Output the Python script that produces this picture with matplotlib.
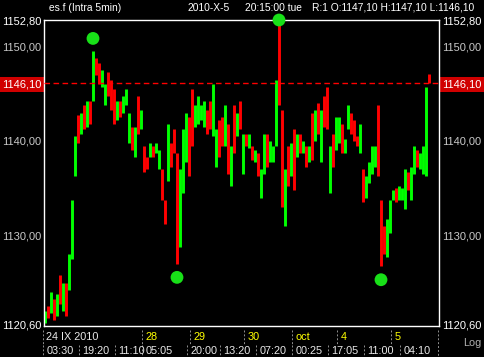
# es.f intraday 5min chart, dark trading-terminal style

import matplotlib
matplotlib.use('Agg')
import matplotlib.pyplot as plt
import matplotlib.transforms as mtransforms

# bar highs / lows (one entry per drawn bar)
highs = [1122.00, 1122.50, 1124.00, 1123.25, 1123.75, 1125.75, 1125.00, 1125.00, 1128.00, 1133.75,
         1140.50, 1142.75, 1143.00, 1143.75, 1144.25, 1144.25, 1149.50, 1148.75, 1148.25, 1147.50,
         1146.00, 1147.25, 1146.50, 1145.50, 1144.25, 1144.25, 1144.75, 1145.50, 1143.00, 1141.50,
         1141.50, 1144.75, 1143.25, 1139.50, 1138.25, 1139.75, 1139.50, 1139.75, 1139.00, 1137.00,
         1133.75, 1141.75, 1139.75, 1141.25, 1138.75, 1137.00, 1141.25, 1143.00, 1142.50, 1145.50,
         1143.75, 1144.75, 1143.75, 1144.25, 1143.25, 1144.25, 1146.00, 1141.25, 1142.25, 1142.50,
         1143.75, 1141.75, 1139.50, 1143.75, 1143.00, 1144.25, 1140.75, 1140.75, 1140.75, 1139.50,
         1139.00, 1138.75, 1137.00, 1140.75, 1140.75, 1140.00, 1139.50, 1146.50, 1152.75, 1143.25,
         1137.00, 1139.50, 1139.75, 1141.25, 1140.75, 1140.75, 1140.00, 1139.50, 1139.50, 1143.00,
         1143.25, 1144.00, 1143.25, 1144.75, 1145.75, 1139.50, 1140.75, 1142.50, 1142.50, 1141.75,
         1140.25, 1143.75, 1143.00, 1142.25, 1140.50, 1141.75, 1137.00, 1136.25, 1137.75, 1139.50,
         1139.50, 1143.75, 1133.75, 1131.00, 1131.75, 1133.75, 1134.75, 1135.00, 1135.25, 1135.00,
         1137.00, 1136.75, 1137.25, 1139.50, 1139.00, 1138.75, 1139.50, 1145.75, 1147.10]
lows = [1120.75, 1121.25, 1121.75, 1121.00, 1121.50, 1122.75, 1122.00, 1121.50, 1124.25, 1127.50,
        1136.25, 1139.75, 1140.75, 1141.25, 1141.50, 1141.75, 1144.25, 1147.00, 1146.00, 1145.75,
        1143.75, 1144.75, 1143.25, 1141.75, 1142.25, 1142.50, 1143.00, 1143.75, 1139.75, 1139.00,
        1138.25, 1140.75, 1141.25, 1136.75, 1137.00, 1138.25, 1138.25, 1138.75, 1137.00, 1133.75,
        1131.25, 1135.75, 1137.25, 1138.75, 1127.00, 1128.75, 1134.50, 1137.75, 1136.25, 1139.50,
        1141.50, 1141.75, 1142.25, 1141.50, 1140.75, 1141.25, 1140.50, 1137.25, 1138.25, 1139.50,
        1139.50, 1136.50, 1135.25, 1138.75, 1140.50, 1141.25, 1136.50, 1139.50, 1139.25, 1138.00,
        1137.75, 1136.25, 1134.00, 1136.50, 1137.25, 1137.75, 1137.75, 1139.50, 1143.75, 1133.00,
        1131.00, 1135.25, 1136.25, 1134.75, 1138.25, 1138.75, 1138.75, 1137.25, 1137.75, 1138.00,
        1140.00, 1140.75, 1137.75, 1141.50, 1141.25, 1134.50, 1137.25, 1139.00, 1139.75, 1138.75,
        1138.75, 1141.25, 1140.75, 1140.00, 1139.50, 1138.75, 1133.50, 1134.00, 1135.50, 1136.50,
        1137.25, 1136.25, 1126.75, 1128.00, 1127.75, 1130.25, 1133.75, 1133.50, 1133.75, 1133.75,
        1132.75, 1134.75, 1133.75, 1136.50, 1137.25, 1137.00, 1136.50, 1136.25, 1146.10]
# G = up bar, R = down bar
directions = ("GRGRGRGRGG" "GRGRGRGRRG" "GRRRGRGGGR" "GRGRRGRGGR" "RGRRRGGGRR"
              "GGGGRRGGRR" "GRGRGRGRGR" "GRGGRGGGRR" "GRGRGRGRGR" "GRGRRGRGGR"
              "GGRRRGRGGG" "GRRRGGGRGG" "GRGGRGGGR")

last_price = 1146.10
price_ticks = [1152.80, 1150.00, 1146.10, 1140.00, 1130.00, 1120.60]
time_ticks = [0, 12, 24, 33, 48, 59, 71, 83, 95, 107, 119]
time_labels = ['03:30', '19:20', '11:10', '05:05', '20:00', '13:20', '07:20',
               '00:25', '17:05', '11:00', '04:10']
date_ticks = [0, 33, 49, 67, 83, 98, 116]
date_labels = ['24 IX 2010', '28', '29', '30', 'oct', '4', '5']
extreme_bars = [16, 44, 78, 112]
extreme_side = ['hi', 'lo', 'hi', 'lo']

plt.rcParams['font.family'] = ['Liberation Sans', 'DejaVu Sans']

W, H = 484, 357
fig = plt.figure(figsize=(W / 100, H / 100), dpi=100, facecolor='black')
ax = fig.add_axes([44 / W, 1 - 326 / H, 395 / W, 306 / H], facecolor='black')

colors = {'G': '#00ff00', 'R': '#ff0000'}
xs = list(range(len(highs)))
ax.vlines(xs, lows, highs, colors=[colors[d] for d in directions], lw=2.1, zorder=2)

# last price line
ax.axhline(last_price, color='#ff0000', lw=1.0, ls=(0, (4, 2.5)), zorder=3)

# extreme markers
for i, side in zip(extreme_bars, extreme_side):
    if side == 'hi':
        y = min(highs[i] + 1.35, 1152.8)
    else:
        y = lows[i] - 1.45
    ax.scatter([i], [y], s=85, color='#18e018', edgecolors='none', zorder=5, clip_on=False)

ax.set_xlim(-0.33, 131.33)
ax.set_ylim(1120.4, 1152.8)

for s in ax.spines.values():
    s.set_color('white')
    s.set_linewidth(1)

ax.set_xticks([])
ax.set_yticks(price_ticks)
ax.set_yticklabels([('%.2f' % p).replace('.', ',') for p in price_ticks])
ax.tick_params(axis='y', length=0, pad=2, labelsize=8, labelleft=True, labelright=True,
               colors='#c8c8c8')
for t in ax.yaxis.get_major_ticks():
    for lab in (t.label1, t.label2):
        txt = lab.get_text()
        if txt in ('1152,80', '1120,60'):
            lab.set_color('white')
        if txt == '1146,10':
            lab.set_color('white')
            lab.set_bbox(dict(facecolor='#d00000', edgecolor='none', pad=2))

# bottom axis: two rows of labels with dashed separators
trans = mtransforms.blended_transform_factory(ax.transData, ax.transAxes)
for x, lab in zip(time_ticks, time_labels):
    ax.text(x + 0.5, -0.082, lab, transform=trans, color='#e8e8e8', fontsize=7.8,
            ha='left', va='center', clip_on=False)
    ax.plot([x - 0.6, x - 0.6], [-0.062, -0.105], transform=trans, color='#909090',
            lw=0.7, ls=(0, (2, 2)), clip_on=False)
for x, lab in zip(date_ticks, date_labels):
    ax.text(x + 0.5, -0.036, lab, transform=trans,
            color='#e8e8e8' if x == 0 else '#ffff00', fontsize=7.8,
            ha='left', va='center', clip_on=False)
    ax.plot([x - 0.6, x - 0.6], [-0.012, -0.058], transform=trans, color='#909090',
            lw=0.7, ls=(0, (2, 2)), clip_on=False)
ax.plot([131.0, 131.0], [-0.012, -0.105], transform=trans, color='#909090',
        lw=0.7, ls=(0, (2, 2)), clip_on=False)

fig.text(463 / W, 1 - 343 / H, 'Log', color='#b0b0b0', fontsize=7.8, va='center')

# header line
header = [(49, 'es.f (Intra 5min)'), (188, '2010-X-5'), (245, '20:15:00 tue'),
          (312, 'R:1 O:1147,10 H:1147,10 L:1146,10')]
for x, txt in header:
    fig.text(x / W, 1 - 8 / H, txt, color='white', fontsize=7.4, va='center')

fig.savefig('out.png', dpi=100, facecolor='black')
